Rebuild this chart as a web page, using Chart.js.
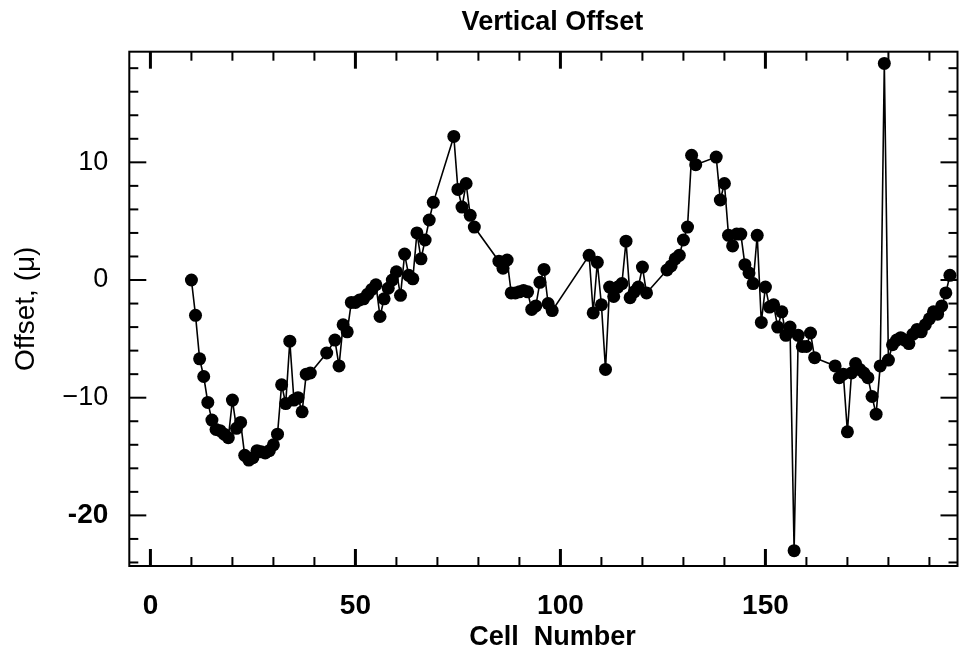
<!DOCTYPE html>
<html>
<head>
<meta charset="utf-8">
<script src="https://cdn.jsdelivr.net/npm/chart.js@4.4.1/dist/chart.umd.min.js"></script>
<style>
  html, body { margin: 0; padding: 0; background: #ffffff; }
  #wrap { width: 964px; height: 659px; }
</style>
</head>
<body>
<div id="wrap"><canvas id="c" width="964" height="659"></canvas></div>
<script>
// ---- data ----
const cells = [
  10, 11, 12, 13, 14, 15, 16, 17, 18, 19,
  20, 21, 22, 23, 24, 25, 26, 27, 28, 29,
  30, 31, 32, 33, 34, 35, 36, 37, 38, 39,
  43, 45, 46, 47, 48, 49, 50, 51, 52, 53,
  54, 55, 56, 57, 58, 59, 60, 61, 62, 63,
  64, 65, 66, 67, 68, 69, 74, 75, 76, 77,
  78, 79, 85, 86, 87, 88, 89, 90, 91, 92,
  93, 94, 95, 96, 97, 98, 107, 108, 109, 110,
  111, 112, 113, 114, 115, 116, 117, 118, 119, 120,
  121, 126, 127, 128, 129, 130, 131, 132, 133, 138,
  139, 140, 141, 142, 143, 144, 145, 146, 147, 148,
  149, 150, 151, 152, 153, 154, 155, 156, 157, 158,
  159, 160, 161, 162, 167, 168, 169, 170, 171, 172,
  173, 174, 175, 176, 177, 178, 179, 180, 181, 182,
  183, 184, 185, 186, 187, 188, 189, 190, 191, 192,
  193, 194, 195
];
const offsets = [
  0.0, -3.0, -6.7, -8.2, -10.4, -11.9, -12.7, -12.8, -13.1, -13.4,
  -10.2, -12.6, -12.1, -14.9, -15.3, -15.1, -14.5, -14.6, -14.7, -14.5,
  -14.0, -13.1, -8.9, -10.5, -5.2, -10.2, -10.0, -11.2, -8.0, -7.9,
  -6.2, -5.1, -7.3, -3.8, -4.4, -1.9, -1.9, -1.7, -1.6, -1.2,
  -0.8, -0.4, -3.1, -1.6, -0.7, 0.0, 0.7, -1.3, 2.2, 0.4,
  0.1, 4.0, 1.8, 3.4, 5.1, 6.6, 12.2, 7.7, 6.2, 8.2,
  5.5, 4.5, 1.6, 1.0, 1.7, -1.1, -1.1, -1.0, -0.9, -1.0,
  -2.5, -2.2, -0.2, 0.9, -2.0, -2.6, 2.1, -2.8, 1.5, -2.1,
  -7.6, -0.6, -1.4, -0.6, -0.3, 3.3, -1.5, -1.0, -0.6, 1.1,
  -1.1, 0.85, 1.2, 1.8, 2.1, 3.4, 4.5, 10.6, 9.8, 10.45,
  6.8, 8.2, 3.8, 2.9, 3.9, 3.9, 1.3, 0.6, -0.3, 3.8,
  -3.6, -0.6, -2.3, -2.1, -4.0, -2.7, -4.7, -4.0, -23.0, -4.7,
  -5.65, -5.65, -4.5, -6.6, -7.3, -8.3, -8.0, -12.9, -7.9, -7.1,
  -7.6, -7.9, -8.3, -9.9, -11.4, -7.3, 18.4, -6.8, -5.5, -5.1,
  -4.9, -5.1, -5.4, -4.6, -4.2, -4.4, -3.8, -3.3, -2.7, -2.9,
  -2.2, -1.1, 0.4
];
const xTickValues = [0, 50, 100, 150];
const yTickValues = [-20, -10, 0, 10];
const yTickLabels = { '-20': '-20', '-10': '\u221210', '0': '0', '10': '10' };
const xMinorStep = 10;
const yMinorStep = 2;

const FONT = '"Liberation Sans", Arial, Helvetica, sans-serif';
const TITLE_SHIFT = 9; // titles in the reference sit slightly right of the plot centre

const points = cells.map((c, i) => ({ x: c, y: offsets[i] }));

// frame + inward tick marks on all four sides, placed with the chart's own scales
const frameTicks = {
  id: 'frameTicks',
  afterLayout(chart) {
    const tb = chart.titleBlock;
    if (tb) { tb.left += TITLE_SHIFT; tb.right += TITLE_SHIFT; }
    const xs = chart.scales.x;
    if (xs && !xs._shiftPatched) {
      const orig = xs.drawTitle.bind(xs);
      xs.drawTitle = function () {
        const l = this.left, r = this.right;
        this.left = l + TITLE_SHIFT; this.right = r + TITLE_SHIFT;
        orig();
        this.left = l; this.right = r;
      };
      xs._shiftPatched = true;
    }
  },
  afterDraw(chart) {
    const { ctx, chartArea: a, scales } = chart;
    const x = scales.x, y = scales.y;
    ctx.save();
    ctx.strokeStyle = '#000';
    ctx.lineCap = 'butt';
    ctx.lineWidth = 2;
    ctx.strokeRect(a.left, a.top, a.right - a.left, a.bottom - a.top);
    const seg = (x1, y1, x2, y2, w) => {
      ctx.lineWidth = w;
      ctx.beginPath(); ctx.moveTo(x1, y1); ctx.lineTo(x2, y2); ctx.stroke();
    };
    for (let v = Math.ceil(x.min / xMinorStep) * xMinorStep; v <= x.max; v += xMinorStep) {
      const px = x.getPixelForValue(v);
      const major = xTickValues.includes(v);
      const len = major ? 17 : 9;
      const w = major ? 3 : 2;
      seg(px, a.top, px, a.top + len, w);
      seg(px, a.bottom, px, a.bottom - len, w);
    }
    for (let v = Math.ceil(y.min / yMinorStep) * yMinorStep; v <= y.max; v += yMinorStep) {
      const py = y.getPixelForValue(v);
      const major = yTickValues.includes(v);
      const len = major ? 17 : 9;
      seg(a.left, py, a.left + len, py, 2);
      seg(a.right, py, a.right - len, py, 2);
    }
    ctx.restore();
  }
};

new Chart(document.getElementById('c'), {
  type: 'line',
  data: {
    datasets: [{
      data: points,
      borderColor: '#000',
      borderWidth: 1.6,
      pointRadius: 6.5,
      pointBackgroundColor: '#000',
      pointBorderColor: '#000',
      pointBorderWidth: 0,
      tension: 0,
      fill: false
    }]
  },
  options: {
    responsive: false,
    devicePixelRatio: 1,
    animation: false,
    layout: { padding: { left: 0, right: 6.5, top: 0, bottom: 0 } },
    plugins: {
      legend: { display: false },
      tooltip: { enabled: false },
      title: {
        display: true,
        text: 'Vertical Offset',
        color: '#000',
        fullSize: false,
        font: { family: FONT, size: 27, weight: 'bold', lineHeight: 1.2 },
        padding: { top: 6, bottom: 13.3 }
      }
    },
    scales: {
      x: {
        type: 'linear',
        min: -5.15,
        max: 196.85,
        afterBuildTicks: s => { s.ticks = xTickValues.map(v => ({ value: v })); },
        afterFit: s => { s.height = 93; },
        grid: { display: false, drawTicks: false },
        border: { display: false },
        ticks: {
          color: '#000',
          padding: 23,
          maxRotation: 0,
          font: { family: FONT, size: 28, weight: 'bold' }
        },
        title: {
          display: true,
          text: 'Cell  Number',
          color: '#000',
          font: { family: FONT, size: 27, weight: 'bold', lineHeight: 1.2 },
          padding: { top: 0, bottom: 4.8 }
        }
      },
      y: {
        type: 'linear',
        min: -24.3,
        max: 19.4,
        afterBuildTicks: s => { s.ticks = yTickValues.map(v => ({ value: v })); },
        afterFit: s => { s.width = 129.3; },
        grid: { display: false, drawTicks: false },
        border: { display: false },
        ticks: {
          color: '#000',
          padding: 21,
          callback: v => yTickLabels[String(v)] ?? String(v),
          font: ctx => (ctx.tick && ctx.tick.value === -20)
            ? { family: FONT, size: 28, weight: 'bold' }
            : { family: FONT, size: 27, weight: 'normal' }
        },
        title: {
          display: true,
          text: 'Offset, (\u03bc)',
          color: '#000',
          font: { family: FONT, size: 28, weight: 'normal', lineHeight: 1.2 },
          padding: { top: 9, bottom: 0 }
        }
      }
    }
  },
  plugins: [frameTicks]
});
</script>
</body>
</html>
